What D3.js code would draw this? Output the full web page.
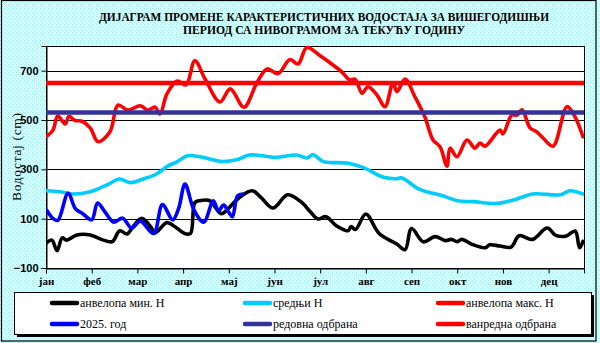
<!DOCTYPE html>
<html><head><meta charset="utf-8">
<script src="https://cdn.jsdelivr.net/npm/d3@7"></script>
<style>html,body{margin:0;padding:0;background:#ccffff;} svg{display:block}</style>
</head><body><svg id="c" width="600" height="343"></svg>
<script>
// ---------- data ----------
const months = ['јан','феб','мар','апр','мај','јун','јул','авг','сеп','окт','нов','дец'];
const monthTickDays = [0,31,62,93,124,155,186,217,248,279,310,341];
const yTicks = [-100,100,300,500,700];
const gridValues = [100,300,500,700];

const minDays = [0.5,4,7.5,11,14,21,30,39,45,50,55,59,65,71,74,82,87.5,94,98,101,104.5,111,119,124,131,140,146,154,164,174,179,184.5,190,197,205,207,210,217,226,238,243.6,248,256,264,271,275,279,282,289,298,301,308,315.5,321,330,340,346,353,359,362,364.3];
const minH    = [3,13,-30,22,13,34,34,13,7,51,38,67,101,67,42,84,67,40,40,165,173,173,120,143,185,213,185,143,197,163,130,99,108,71,51,68,56,119,40,-3,-26,60,6,27,11,16,7,16,-4,-18,-6,-11,-15,31,16,62,32,30,50,-18,8];

const meanDays = [0.5,9.5,18,30,41,50,57,66,75,82,89,96,104.5,119,130,138,156,170,177,181,188,192,206,215,229,237.5,241.5,253,269,279,290,306,319.5,330,349,355.5,364.3];
const meanH    = [213,209,200,209,236,261,246,261,281,311,331,355,351,332,340,358,349,358,346,359,331,328,324,308,268,262,265,220,193,173,169,162,180,200,197,213,200];

const maxDays = [0.5,4.7,8,13,15.6,19.7,24.4,30,35.3,43.4,48.8,55.6,64,69.2,74,77.3,82,89,95,101,108,118,125,134.3,143,150,157.4,165.5,171,177,186,194.7,200.8,206.2,209.6,214.4,218.5,224.6,230,235.4,238.1,243.6,250.3,257,262.6,267.3,272,274.1,278.8,285.6,291,294.4,297.8,308,310,316,319.5,323,328.4,333,337.2,344,353.5,358.9,364.3];
const maxH    = [434,459,516,484,515,498,495,468,412,452,560,540,558,540,552,524,605,658,642,740,665,573,626,552,650,707,688,745,727,794,760,723,694,662,666,609,635,601,554,650,615,666,594,513,419,392,313,386,351,419,386,407,394,459,443,520,520,541,468,452,427,394,554,513,432];

const curDays = [0.5,4.7,8,15,20,25,31,35,40,46,52,58,64,73,79,86,90,94.3,100.4,107,113.5,117,120.5,124,126.5,130,133.6];
const curH    = [134,101,93,203,140,120,95,163,127,86,102,62,90,40,157,95,142,240,135,86,172,132,155,126,108,193,200];

const redovna = 530;
const vanredna = 650;

const seriesNames = ['анвелопа мин. Н','средњи Н','анвелопа макс. Н','2025. год','редовна одбрана','ванредна одбрана'];
const titleLines = ['ДИЈАГРАМ ПРОМЕНЕ КАРАКТЕРИСТИЧНИХ ВОДОСТАЈА ЗА ВИШЕГОДИШЊИ','ПЕРИОД СА НИВОГРАМОМ ЗА ТЕКУЋУ ГОДИНУ'];
const yTitle = 'Водостај (cm)';

// ---------- drawing ----------
const svg = d3.select('#c');
const W = 600, H = 343;
const P = {l:46, r:584, t:46, b:268};

const defs = svg.append('defs');
const pat = defs.append('pattern').attr('id','bg').attr('width',4).attr('height',4).attr('patternUnits','userSpaceOnUse');
pat.append('rect').attr('width',4).attr('height',4).attr('fill','#ccffff');
pat.append('rect').attr('x',0).attr('y',0).attr('width',1).attr('height',1).attr('fill','#b0e8e8');
pat.append('rect').attr('x',2).attr('y',2).attr('width',1).attr('height',1).attr('fill','#b0e8e8');

svg.append('rect').attr('width',W).attr('height',H).attr('fill','url(#bg)');
svg.append('rect').attr('x',1.5).attr('y',0.5).attr('width',594.5).attr('height',340.5)
  .attr('fill','none').attr('stroke','#000').attr('stroke-width',1.2);

// title
titleLines.forEach((t,i)=>{
  svg.append('text').attr('x',324).attr('y',i===0?21:34)
    .attr('text-anchor','middle')
    .attr('font-family','"Liberation Serif", "Times New Roman", serif')
    .attr('font-weight','bold').attr('font-size',12.5)
    .attr('textLength', i===0?450:282).attr('lengthAdjust','spacingAndGlyphs')
    .text(t);
});

const x = d3.scaleLinear().domain([0,365]).range([P.l,P.r]);
const y = d3.scaleLinear().domain([-100,800]).range([P.b,P.t]);

// plot area
svg.append('rect').attr('x',P.l).attr('y',P.t).attr('width',P.r-P.l).attr('height',P.b-P.t).attr('fill','#fff');

// grid
svg.append('g').selectAll('line').data(gridValues).join('line')
  .attr('x1',P.l).attr('x2',P.r).attr('y1',d=>Math.round(y(d))+0.5).attr('y2',d=>Math.round(y(d))+0.5)
  .attr('stroke','#000').attr('stroke-width',1);

svg.append('rect').attr('x',P.l+0.5).attr('y',P.t+0.5).attr('width',P.r-P.l).attr('height',P.b-P.t)
  .attr('fill','none').attr('stroke','#000').attr('stroke-width',1);

// axes
const xAxis = svg.append('g').attr('transform',`translate(0,${P.b+0.5})`)
  .call(d3.axisBottom(x).tickValues(monthTickDays).tickFormat((d,i)=>months[i]).tickSize(5).tickPadding(4));
xAxis.selectAll('text').attr('font-family','"Liberation Serif", "Times New Roman", serif')
  .attr('font-weight','bold').attr('font-size',11).attr('fill','#000');
xAxis.select('.domain').attr('stroke','#000');

const yAxis = svg.append('g').attr('transform',`translate(${P.l+0.5},0)`)
  .call(d3.axisLeft(y).tickValues(yTicks).tickFormat(d3.format('d')).tickSize(5).tickPadding(3));
yAxis.selectAll('text').attr('font-family','"Liberation Sans", Arial, sans-serif')
  .attr('font-weight','bold').attr('font-size',11).attr('fill','#000');
yAxis.select('.domain').attr('stroke','#000');

// y title
svg.append('text').attr('transform','translate(21,157) rotate(-90)')
  .attr('text-anchor','middle')
  .attr('font-family','"Liberation Serif", "Times New Roman", serif')
  .attr('font-size',13.5).attr('textLength',88).attr('lengthAdjust','spacing')
  .text(yTitle);

// series
const clip = defs.append('clipPath').attr('id','pc');
clip.append('rect').attr('x',P.l).attr('y',P.t-2).attr('width',P.r-P.l).attr('height',P.b-P.t+4);

const g = svg.append('g').attr('clip-path','url(#pc)');
const line = d3.line().x(d=>x(d[0])).y(d=>y(d[1])).curve(d3.curveCatmullRom.alpha(0.5));

const series = [
  {days:minDays, vals:minH, color:'#000000'},
  {days:meanDays, vals:meanH, color:'#00ccff'},
  {days:maxDays, vals:maxH, color:'#ff0000'},
  {days:curDays, vals:curH, color:'#0000ff'}
];
series.forEach(s=>{
  const pts = s.days.map((d,i)=>[d,s.vals[i]]);
  g.append('path').attr('d',line(pts)).attr('fill','none')
    .attr('stroke',s.color).attr('stroke-width',3.6)
    .attr('stroke-linejoin','round').attr('stroke-linecap','round');
});

const hl = [{v:redovna,color:'#333399'},{v:vanredna,color:'#ff0000'}];
g.selectAll('.hl').data(hl).join('line')
  .attr('x1',x(0)).attr('x2',x(365)).attr('y1',d=>y(d.v)).attr('y2',d=>y(d.v))
  .attr('stroke',d=>d.color).attr('stroke-width',4.5);

// legend
svg.append('rect').attr('x',17).attr('y',295).attr('width',577).attr('height',42).attr('fill','#000');
svg.append('rect').attr('x',14.5).attr('y',292.5).attr('width',577).attr('height',42)
  .attr('fill','#fff').attr('stroke','#000').attr('stroke-width',1);

const legColors = ['#000000','#00ccff','#ff0000','#0000ff','#333399','#ff0000'];
const colX = [50,243,436];
const rowY = [303,324];
seriesNames.forEach((n,i)=>{
  const cx = colX[i%3], cy = rowY[Math.floor(i/3)];
  svg.append('line').attr('x1',cx+2).attr('x2',cx+27).attr('y1',cy).attr('y2',cy)
    .attr('stroke',legColors[i]).attr('stroke-width',4.5).attr('stroke-linecap','round');
  svg.append('text').attr('x',cx+30).attr('y',cy+3.5)
    .attr('font-family','"Liberation Serif", "Times New Roman", serif')
    .attr('font-size',12).text(n);
});
</script></body></html>
